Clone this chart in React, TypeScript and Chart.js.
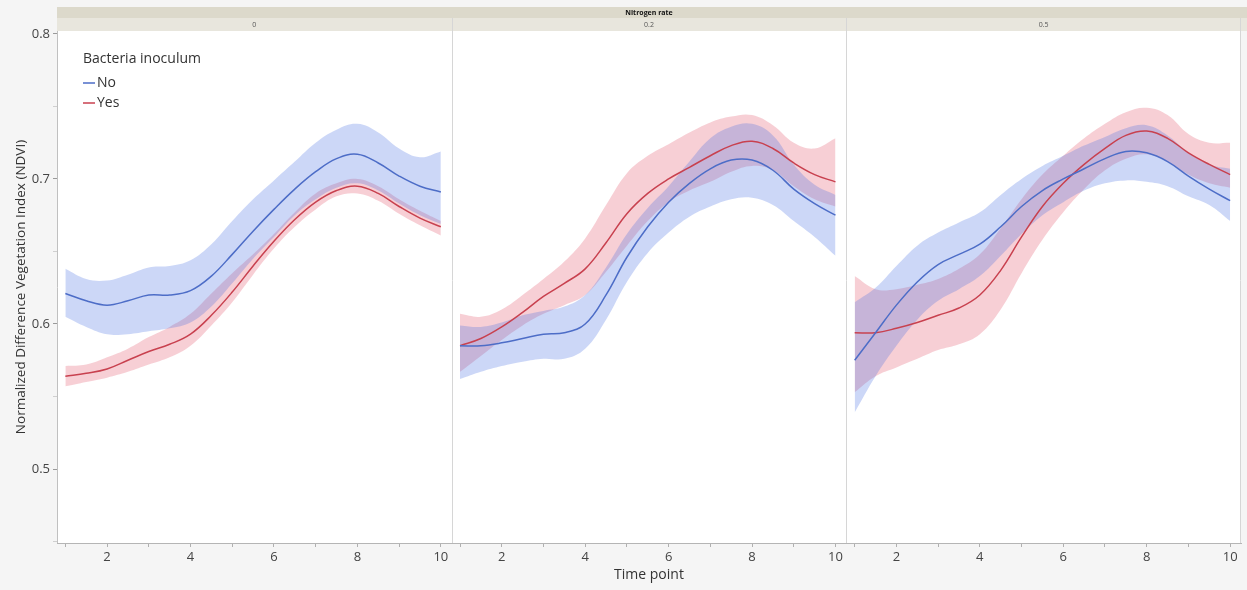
import { useEffect, useRef } from 'react';
import { Chart, registerables } from 'chart.js';

Chart.register(...registerables);

// ---------- data ----------
const TIME = [1, 1.5, 2, 2.5, 3, 3.5, 4, 4.5, 5, 5.5, 6, 6.5, 7, 7.5, 8, 8.5, 9, 9.5, 10];
const NITROGEN_RATES = ['0', '0.2', '0.5'];
const FACET_TITLE = 'Nitrogen rate';
const GROUP_TITLE = 'Bacteria inoculum';
const GROUPS = ['No', 'Yes'];
const X_TITLE = 'Time point';
const Y_TITLE = 'Normalized Difference Vegetation Index (NDVI)';

// Nitrogen rate 0
const NO_MEAN_0 = [0.621, 0.616, 0.613, 0.616, 0.620, 0.620, 0.623, 0.633, 0.648, 0.664, 0.679, 0.693, 0.705, 0.714, 0.717, 0.711, 0.702, 0.695, 0.691];
const NO_HI_0 = [0.638, 0.631, 0.630, 0.634, 0.639, 0.640, 0.644, 0.655, 0.671, 0.686, 0.699, 0.712, 0.725, 0.734, 0.738, 0.732, 0.721, 0.715, 0.719];
const NO_LO_0 = [0.605, 0.598, 0.593, 0.593, 0.595, 0.597, 0.601, 0.612, 0.628, 0.645, 0.660, 0.675, 0.686, 0.694, 0.697, 0.692, 0.683, 0.675, 0.669];
const YES_MEAN_0 = [0.564, 0.566, 0.569, 0.575, 0.581, 0.586, 0.593, 0.606, 0.622, 0.640, 0.657, 0.672, 0.684, 0.692, 0.695, 0.690, 0.681, 0.673, 0.667];
const YES_HI_0 = [0.571, 0.572, 0.577, 0.583, 0.591, 0.598, 0.607, 0.621, 0.635, 0.648, 0.662, 0.677, 0.690, 0.697, 0.700, 0.695, 0.686, 0.678, 0.671];
const YES_LO_0 = [0.557, 0.560, 0.563, 0.567, 0.572, 0.577, 0.585, 0.599, 0.615, 0.634, 0.652, 0.667, 0.679, 0.688, 0.690, 0.685, 0.676, 0.668, 0.661];

// Nitrogen rate 0.2
const NO_MEAN_02 = [0.585, 0.585, 0.587, 0.590, 0.593, 0.594, 0.600, 0.620, 0.646, 0.667, 0.684, 0.697, 0.707, 0.713, 0.713, 0.706, 0.693, 0.683, 0.675];
const NO_HI_02 = [0.599, 0.598, 0.601, 0.606, 0.609, 0.612, 0.620, 0.639, 0.662, 0.680, 0.695, 0.712, 0.728, 0.736, 0.738, 0.730, 0.710, 0.696, 0.689];
const NO_LO_02 = [0.562, 0.567, 0.571, 0.574, 0.576, 0.576, 0.583, 0.603, 0.629, 0.649, 0.663, 0.674, 0.681, 0.686, 0.687, 0.682, 0.671, 0.660, 0.647];
const YES_MEAN_02 = [0.585, 0.590, 0.598, 0.608, 0.619, 0.628, 0.638, 0.656, 0.676, 0.690, 0.700, 0.708, 0.716, 0.723, 0.726, 0.721, 0.711, 0.703, 0.698];
const YES_HI_02 = [0.607, 0.605, 0.610, 0.620, 0.631, 0.643, 0.659, 0.682, 0.704, 0.716, 0.724, 0.732, 0.739, 0.743, 0.744, 0.737, 0.725, 0.721, 0.728];
const YES_LO_02 = [0.567, 0.578, 0.589, 0.599, 0.607, 0.613, 0.620, 0.636, 0.654, 0.671, 0.684, 0.692, 0.698, 0.705, 0.709, 0.706, 0.695, 0.686, 0.681];

// Nitrogen rate 0.5
const NO_MEAN_05 = [0.575, 0.594, 0.613, 0.629, 0.641, 0.648, 0.655, 0.667, 0.681, 0.692, 0.700, 0.707, 0.714, 0.719, 0.718, 0.712, 0.702, 0.693, 0.685];
const NO_HI_05 = [0.615, 0.625, 0.640, 0.654, 0.663, 0.670, 0.677, 0.689, 0.700, 0.709, 0.716, 0.723, 0.729, 0.735, 0.737, 0.730, 0.718, 0.710, 0.707];
const NO_LO_05 = [0.539, 0.564, 0.585, 0.603, 0.616, 0.624, 0.633, 0.647, 0.662, 0.675, 0.684, 0.692, 0.697, 0.699, 0.698, 0.695, 0.688, 0.682, 0.671];
const YES_MEAN_05 = [0.594, 0.594, 0.597, 0.601, 0.606, 0.611, 0.620, 0.637, 0.660, 0.681, 0.697, 0.710, 0.721, 0.730, 0.733, 0.728, 0.718, 0.710, 0.703];
const YES_HI_05 = [0.633, 0.624, 0.624, 0.627, 0.631, 0.638, 0.648, 0.666, 0.686, 0.703, 0.716, 0.728, 0.738, 0.746, 0.749, 0.744, 0.731, 0.725, 0.725];
const YES_LO_05 = [0.553, 0.564, 0.570, 0.576, 0.582, 0.586, 0.593, 0.610, 0.635, 0.658, 0.677, 0.693, 0.706, 0.714, 0.717, 0.712, 0.703, 0.697, 0.694];

const X_TICK_LABELS = [2, 4, 6, 8, 10];
const Y_TICK_LABELS = [0.5, 0.6, 0.7, 0.8];

// ---------- styles ----------
const LINE_COLORS = ['#4d6dc7', '#c8414f'];
const BAND_COLORS = ['rgba(72,112,226,0.28)', 'rgba(226,78,98,0.27)'];
const FONT = 'Open Sans';

const PANELS = [
  { no: [NO_LO_0, NO_HI_0, NO_MEAN_0], yes: [YES_LO_0, YES_HI_0, YES_MEAN_0] },
  { no: [NO_LO_02, NO_HI_02, NO_MEAN_02], yes: [YES_LO_02, YES_HI_02, YES_MEAN_02] },
  { no: [NO_LO_05, NO_HI_05, NO_MEAN_05], yes: [YES_LO_05, YES_HI_05, YES_MEAN_05] },
];

const pts = (arr: number[]) => TIME.map((t, i) => ({ x: t, y: arr[i] }));

function buildDatasets() {
  const ds: any[] = [];
  PANELS.forEach((p, pi) => {
    [p.no, p.yes].forEach((g, gi) => {
      const [lo, hi, mean] = g;
      const common = { xAxisID: 'x' + pi, yAxisID: 'y', pointRadius: 0, tension: 0.4 };
      ds.push({ ...common, label: GROUPS[gi] + ' lower', data: pts(lo), borderWidth: 0, borderColor: 'rgba(0,0,0,0)', fill: false, order: 2 });
      ds.push({ ...common, label: GROUPS[gi] + ' upper', data: pts(hi), borderWidth: 0, borderColor: 'rgba(0,0,0,0)', backgroundColor: BAND_COLORS[gi], fill: '-1', order: 2 });
      ds.push({ ...common, label: GROUPS[gi], data: pts(mean), borderWidth: 1.5, borderColor: LINE_COLORS[gi], fill: false, order: 0 });
    });
  });
  return ds;
}

const HEADER_TOP = 7;
const HEADER_MID = 18;

const facetPlugin = {
  id: 'facets',
  beforeDraw(chart: any) {
    const { ctx, chartArea } = chart;
    ctx.save();
    ctx.fillStyle = '#f5f5f5';
    ctx.fillRect(0, 0, chart.width, chart.height);
    ctx.fillStyle = '#ffffff';
    ctx.fillRect(chartArea.left, chartArea.top, chartArea.right - chartArea.left, chartArea.bottom - chartArea.top);
    // header bands
    ctx.fillStyle = '#dcd9cb';
    ctx.fillRect(chartArea.left, HEADER_TOP, chart.width - chartArea.left, HEADER_MID - HEADER_TOP);
    ctx.fillStyle = '#e8e6dd';
    ctx.fillRect(chartArea.left, HEADER_MID, chart.width - chartArea.left, chartArea.top - HEADER_MID);
    ctx.textAlign = 'center';
    ctx.textBaseline = 'middle';
    ctx.fillStyle = '#111';
    ctx.font = `bold 7px ${FONT}`;
    ctx.fillText(FACET_TITLE, (chartArea.left + chartArea.right) / 2, (HEADER_TOP + HEADER_MID) / 2 + 0.5);
    ctx.fillStyle = '#555';
    ctx.font = `7px ${FONT}`;
    NITROGEN_RATES.forEach((r, i) => {
      const s = chart.scales['x' + i];
      ctx.fillText(r, (s.left + s.right) / 2, (HEADER_MID + chartArea.top) / 2 + 0.5);
    });
    ctx.restore();
  },
  afterDatasetsDraw(chart: any) {
    const { ctx, chartArea } = chart;
    ctx.save();
    ctx.strokeStyle = '#d6d6d6';
    ctx.lineWidth = 1;
    NITROGEN_RATES.forEach((_, i) => {
      const s = chart.scales['x' + i];
      if (i > 0) {
        ctx.beginPath();
        ctx.moveTo(Math.round(s.left) + 0.5, HEADER_MID);
        ctx.lineTo(Math.round(s.left) + 0.5, chartArea.bottom);
        ctx.stroke();
      }
      if (i === NITROGEN_RATES.length - 1) {
        ctx.beginPath();
        ctx.moveTo(Math.round(s.right) - 0.5, HEADER_MID);
        ctx.lineTo(Math.round(s.right) - 0.5, chartArea.bottom);
        ctx.stroke();
      }
    });
    ctx.restore();
  },
  afterDraw(chart: any) {
    const { ctx } = chart;
    ctx.save();
    ctx.textAlign = 'left';
    ctx.textBaseline = 'middle';
    ctx.fillStyle = '#333';
    ctx.font = `14px ${FONT}`;
    ctx.fillText(GROUP_TITLE, 83, 59);
    GROUPS.forEach((g, i) => {
      const y = 83 + i * 20;
      ctx.strokeStyle = LINE_COLORS[i];
      ctx.lineWidth = 1.5;
      ctx.beginPath();
      ctx.moveTo(83, y);
      ctx.lineTo(95, y);
      ctx.stroke();
      ctx.fillStyle = '#333';
      ctx.fillText(g, 97, y + 0.5);
    });
    ctx.restore();
  },
};

function xScale(i: number) {
  return {
    type: 'linear',
    position: 'bottom',
    stack: 'panels',
    stackWeight: 1,
    min: 0.8,
    max: 10.26,
    afterFit: (s: any) => { s.height = 47; },
    border: { display: true, color: '#b5b5b5' },
    grid: { display: true, drawOnChartArea: false, drawTicks: true, tickLength: 4, tickColor: '#b0b0b0' },
    ticks: {
      stepSize: 1,
      includeBounds: false,
      autoSkip: false,
      maxRotation: 0,
      padding: 2,
      color: '#444',
      font: { family: FONT, size: 13 },
      callback: (v: any) => (X_TICK_LABELS.includes(Number(v)) ? String(v) : ''),
    },
    title: {
      display: i === 1,
      text: X_TITLE,
      color: '#333',
      font: { family: FONT, size: 14 },
      padding: { top: 0, bottom: 7 },
    },
  };
}

export default function App() {
  const ref = useRef<HTMLCanvasElement>(null);
  useEffect(() => {
    if (!ref.current) return;
    const chart = new Chart(ref.current, {
      type: 'line',
      data: { datasets: buildDatasets() },
      plugins: [facetPlugin as any],
      options: {
        animation: false,
        responsive: false,
        maintainAspectRatio: false,
        layout: { padding: { top: 31, right: 6, left: 0, bottom: 0 } },
        plugins: {
          legend: { display: false },
          tooltip: { enabled: false },
          filler: { drawTime: 'beforeDatasetsDraw' },
        },
        scales: {
          y: {
            type: 'linear',
            position: 'left',
            min: 0.449,
            max: 0.802,
            afterFit: (s: any) => { s.width = 57; },
            border: { display: true, color: '#c0c0c0' },
            grid: {
              display: true,
              drawOnChartArea: false,
              tickLength: 4,
              tickColor: (c: any) => (c.tick && Y_TICK_LABELS.some((t) => Math.abs(t - c.tick.value) < 1e-6) ? '#9a9a9a' : '#cfcfcf'),
            },
            ticks: {
              stepSize: 0.05,
              includeBounds: false,
              padding: 3,
              color: '#444',
              font: { family: FONT, size: 13 },
              callback: (v: any) => {
                const m = Y_TICK_LABELS.find((t) => Math.abs(t - Number(v)) < 1e-6);
                return m !== undefined ? m.toFixed(1) : '';
              },
            },
            title: {
              display: true,
              text: Y_TITLE,
              color: '#333',
              font: { family: FONT, size: 13.5 },
              padding: { top: 13, bottom: 0 },
            },
          },
          x0: xScale(0),
          x1: xScale(1),
          x2: xScale(2),
        } as any,
      },
    } as any);
    return () => chart.destroy();
  }, []);
  return (
    <div style={{ position: 'fixed', left: 0, top: 0, width: 1247, height: 590, background: '#f5f5f5' }}>
      <canvas ref={ref} width={1247} height={590} style={{ display: 'block', width: 1247, height: 590 }} />
    </div>
  );
}
